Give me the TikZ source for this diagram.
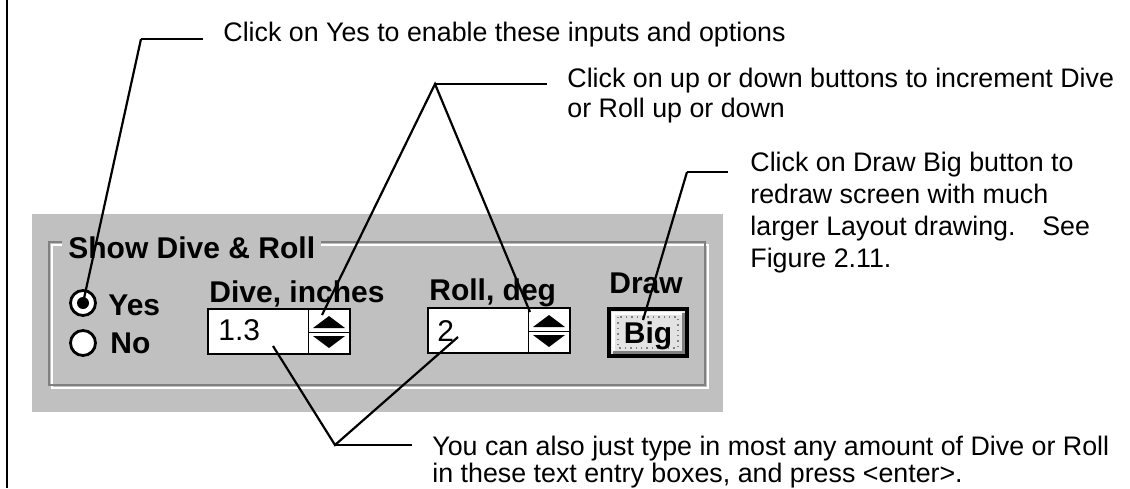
\documentclass[tikz,border=0pt]{standalone}
\usepackage{fontspec}
\setmainfont{Liberation Sans}
\usetikzlibrary{calc, positioning}
\definecolor{panelgray}{HTML}{C0C0C0}
\definecolor{shadegray}{HTML}{808080}

\begin{document}
\begin{tikzpicture}[x=0.5pt, y=-0.5pt,
  note/.style={anchor=north west, inner sep=0pt, align=left, font=\fontsize{13.4}{15}\selectfont},
  uilbl/.style={anchor=base west, inner sep=0pt, font=\bfseries\fontsize{15}{16}\selectfont},
  fieldtxt/.style={anchor=base west, inner sep=0pt, font=\fontsize{15}{16}\selectfont},
  radio/.style={circle, draw, fill=white, line width=1.4pt, minimum size=12.5pt, inner sep=0pt},
  entry/.style={draw, fill=white, line width=0.9pt},
  leader/.style={line width=1.1pt}]
\useasboundingbox (0,0) rectangle (1130,488);
\draw[line width=1.2pt] (7,0) -- (7,488);

% the dialog panel
\fill[panelgray] (32,214) rectangle (723,412);
\draw[white, line width=1pt] (52,245) rectangle (708,388);
\draw[shadegray, line width=1pt] (49,242) rectangle (705,385);
\node[uilbl, fill=panelgray, inner xsep=3pt] (title) at (62,258) {Show Dive \& Roll};

\node[radio] (yesradio) at (83,303) {};
\fill (yesradio) circle (6);
\node[radio] (noradio) at (83,343) {};
\node[uilbl] (yeslbl) at (108,315) {Yes};
\node[uilbl] (nolbl) at (110,353) {No};

\node[uilbl] (divelbl) at (209,302) {Dive, inches};
\node[uilbl] (rolllbl) at (429,300) {Roll, deg};
\node[uilbl] (drawlbl) at (609,293) {Draw};

% text boxes with spinners
\draw[entry] (208,309) rectangle (350,354);
\draw (308,309) -- (308,354);
\draw (308,332) -- (350,332);
\fill (313,328) -- (345,328) -- (329,316) -- cycle;
\fill (313,336) -- (345,336) -- (329,348) -- cycle;
\node[fieldtxt] (divetxt) at (218,340) {1.3};

\draw[entry] (428,308) rectangle (570,353);
\draw (528,308) -- (528,353);
\draw (528,331) -- (570,331);
\fill (533,327) -- (565,327) -- (549,315) -- cycle;
\fill (533,335) -- (565,335) -- (549,347) -- cycle;
\node[fieldtxt] (rolltxt) at (437,341) {2};

% Big button
\fill[panelgray!45!white] (609,309) rectangle (687,356);
\draw[white, line width=1.5pt] (613,352) -- (613,313) -- (683,313);
\draw[shadegray, line width=1.5pt] (613,352) -- (683,352) -- (683,313);
\draw[shadegray, dotted, line width=0.7pt] (618,317) rectangle (678,348);
\draw[line width=2pt] (609,309) rectangle (687,356);
\node[uilbl, anchor=base] (bigtxt) at (648,343) {Big};

% callouts
\node[note] (noteyes) at (223,22) {Click on Yes to enable these inputs and options};
\node[note] (noteupdn) at (567,68) {Click on up or down buttons to increment Dive\\or Roll up or down};
\node[note, font=\fontsize{13.4}{16}\selectfont] (notebig) at (750,152) {Click on Draw Big button to\\redraw screen with much\\larger Layout drawing.\hspace{1em}See\\Figure 2.11.};
\node[note, font=\fontsize{13.4}{13.5}\selectfont] (noteentry) at (432,436) {You can also just type in most any amount of Dive or Roll\\in these text entry boxes, and press <enter>.};

\coordinate (kneeyes) at (141,39);
\coordinate (kneeupdn) at (435,84);
\coordinate (kneebig) at (687,172);
\coordinate (kneeentry) at (335,445);
\coordinate (tipdive) at (322,315);
\coordinate (tiproll) at (530,312);
\coordinate (tipbig) at (643,320);
\coordinate (tipdivetxt) at (273,346);
\coordinate (tiprolltxt) at (458,337);

\draw[leader] (yesradio.center) -- (kneeyes);
\draw[leader, shorten >=10pt] (kneeyes) -- (kneeyes -| noteyes.west);
\draw[leader] (tipdive) -- (kneeupdn) -- (tiproll);
\draw[leader, shorten >=10pt] (kneeupdn) -- (kneeupdn -| noteupdn.west);
\draw[leader] (tipbig) -- (kneebig);
\draw[leader, shorten >=11pt] (kneebig) -- (kneebig -| notebig.west);
\draw[leader] (tipdivetxt) -- (kneeentry) -- (tiprolltxt);
\draw[leader, shorten >=10pt] (kneeentry) -- (kneeentry -| noteentry.west);
\end{tikzpicture}
\end{document}
